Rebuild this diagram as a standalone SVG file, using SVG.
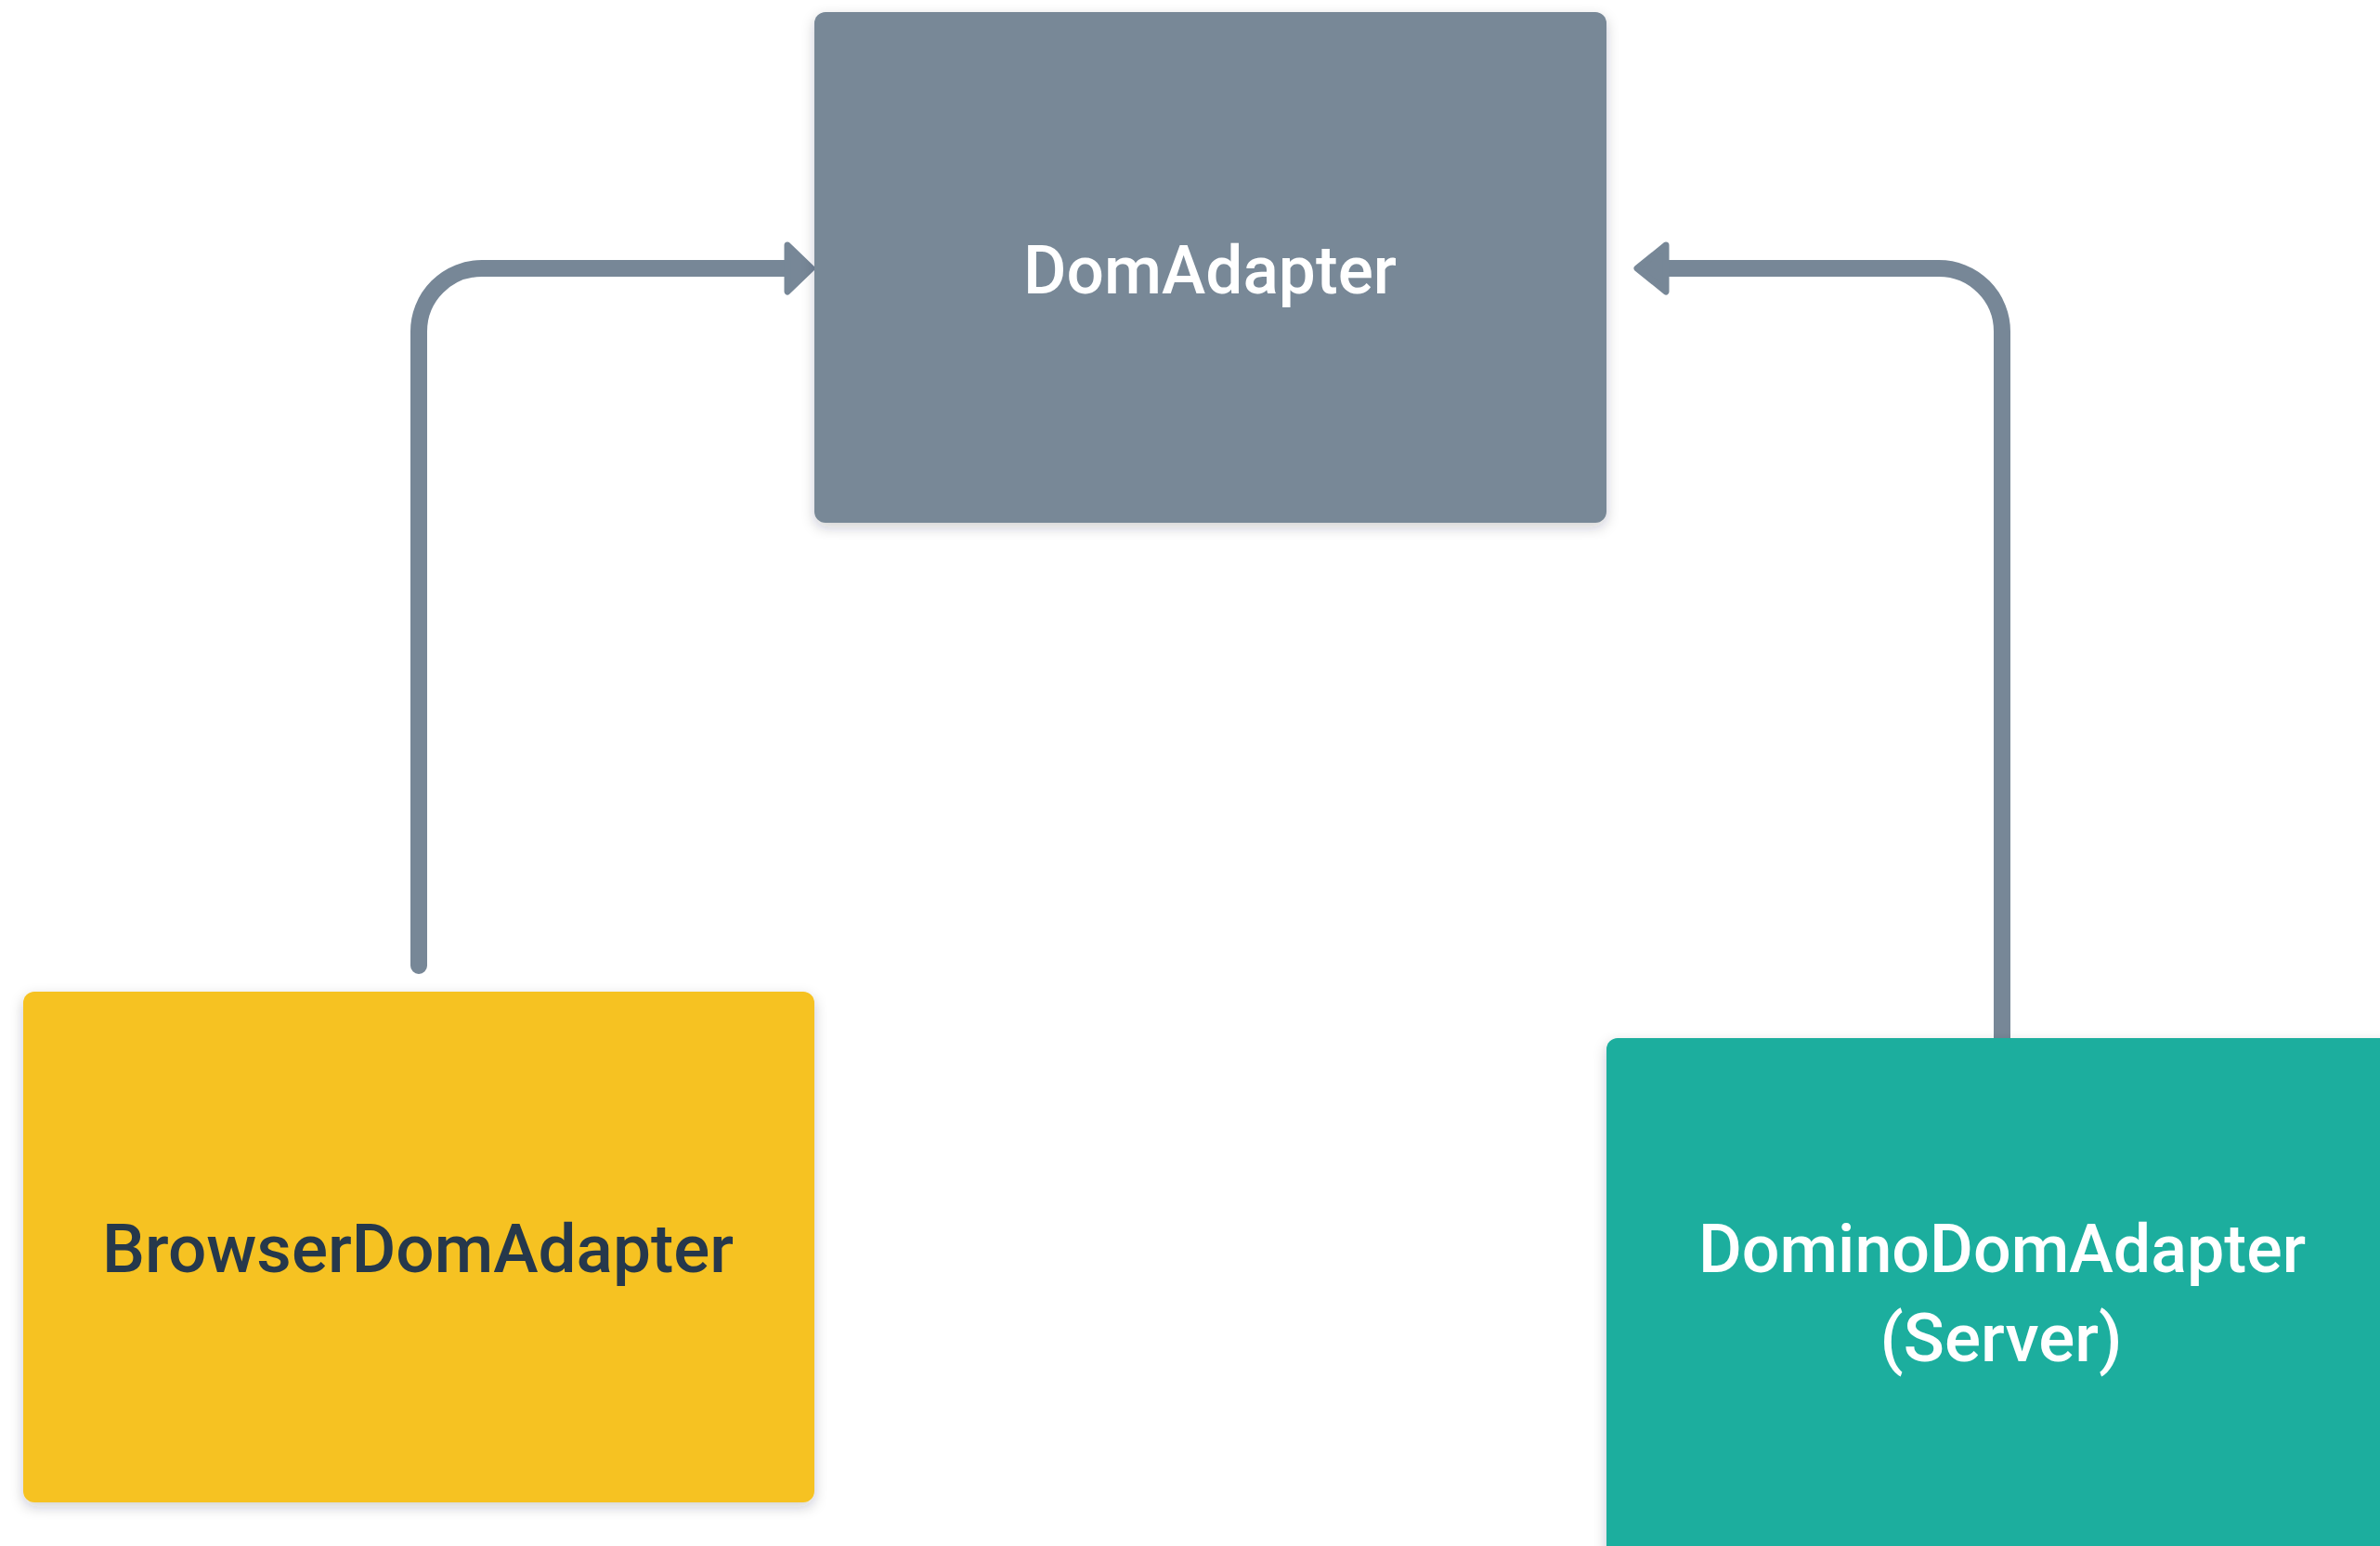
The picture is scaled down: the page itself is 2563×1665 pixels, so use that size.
<svg xmlns="http://www.w3.org/2000/svg" width="2563" height="1665" viewBox="0 0 2563 1665">
  <style>
    .lbl { font-family: Roboto, "Liberation Sans", Arial, sans-serif; font-size: 72px; font-weight: 500; text-anchor: middle; }
    .light { fill: #ffffff; }
    .dark { fill: #26384b; }
    .conn { fill: none; stroke: #778797; stroke-linecap: round; stroke-linejoin: round; }
    .head { fill: #778797; stroke: #778797; stroke-linejoin: round; }
  </style>
  <defs>
    <filter id="shadow" x="-10%" y="-10%" width="120%" height="130%">
      <feDropShadow dx="0" dy="5" stdDeviation="7" flood-color="#1e2a3a" flood-opacity="0.22"/>
    </filter>
  </defs>
  <rect width="2563" height="1665" fill="#ffffff"/>

  <g id="connectors">
    <path class="conn" stroke-width="18" d="M451,1040 V357 A68,68 0 0 1 519,289 H850"/>
    <path class="head" stroke-width="7" d="M848,264 L874,289 L848,314 Z"/>
    <path class="conn" stroke-width="18" d="M2156,1122 V357 A68,68 0 0 0 2088,289 H1792"/>
    <path class="head" stroke-width="7" d="M1794,264 L1763,289 L1794,314 Z"/>
  </g>

  <g id="node-domadapter">
    <rect x="877" y="13" width="853" height="550" rx="12" fill="#788897" filter="url(#shadow)"/>
    <text class="lbl light" x="1303" y="316" textLength="402" lengthAdjust="spacingAndGlyphs">DomAdapter</text>
  </g>

  <g id="node-browser">
    <rect x="25" y="1068" width="852" height="550" rx="12" fill="#f6c224" filter="url(#shadow)"/>
    <text class="lbl dark" x="450" y="1370" textLength="680" lengthAdjust="spacingAndGlyphs">BrowserDomAdapter</text>
  </g>

  <g id="node-domino">
    <rect x="1730" y="1118" width="860" height="560" rx="12" fill="#1bae9e" filter="url(#shadow)"/>
    <text class="lbl light" x="2156" y="1370" textLength="654" lengthAdjust="spacingAndGlyphs">DominoDomAdapter</text>
    <text class="lbl light" x="2155" y="1466" textLength="261" lengthAdjust="spacingAndGlyphs">(Server)</text>
  </g>
</svg>
